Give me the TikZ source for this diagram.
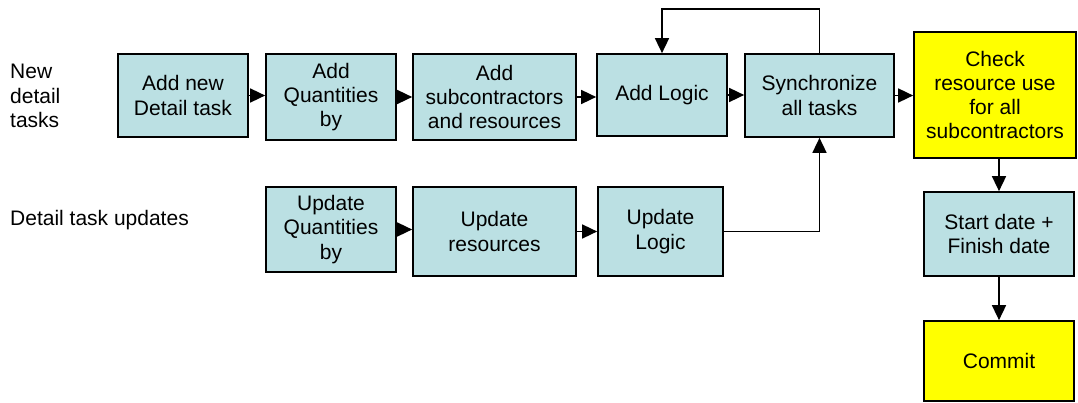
\documentclass[tikz,border=0pt]{standalone}
\usepackage{fontspec}
\setmainfont{Liberation Sans}
\usetikzlibrary{arrows.meta}
\definecolor{taskfill}{HTML}{BBE0E3}
\definecolor{keyfill}{HTML}{FFFF00}
\tikzset{
  taskbox/.style={draw=black, line width=1.7pt, fill=taskfill, rectangle, inner sep=0pt,
    align=center, font=\fontsize{21}{24.3}\selectfont},
  keybox/.style={taskbox, fill=keyfill},
  lbl/.style={anchor=west, align=left, inner sep=0pt, font=\fontsize{21}{24.3}\selectfont},
  arr/.style={draw=black, line width=1.6pt, -{Triangle[length=15pt,width=14pt]}}
}
\begin{document}
\begin{tikzpicture}[x=1pt, y=-1pt]
\useasboundingbox (0,0) rectangle (1078,403);

% row labels
\node[lbl] (lnew) at (10,96) {New\\detail\\tasks};
\node[lbl] (lupd) at (10,220) {Detail task updates};

% new detail tasks
\node[taskbox, minimum width=130pt, minimum height=83pt] (b1) at (183,95.5) {Add new\\Detail task};
\node[taskbox, minimum width=130pt, minimum height=86pt] (b2) at (331,97) {Add\\Quantities\\by};
\node[taskbox, minimum width=163pt, minimum height=86pt] (b3) at (494.5,97) {Add\\subcontractors\\and resources};
\node[taskbox, minimum width=130pt, minimum height=82pt] (b4) at (662,95) {Add Logic};
\node[taskbox, minimum width=149pt, minimum height=83pt] (b5) at (819.5,95.5) {Synchronize\\all tasks};
\node[keybox, minimum width=162pt, minimum height=126pt] (b6) at (995,95) {Check\\resource use\\for all\\subcontractors};

% detail task updates
\node[taskbox, minimum width=130pt, minimum height=85pt] (u1) at (331,229.5) {Update\\Quantities\\by};
\node[taskbox, minimum width=163pt, minimum height=89pt] (u2) at (494.5,231.5) {Update\\resources};
\node[taskbox, minimum width=125pt, minimum height=89pt] (u3) at (660.5,231.5) {Update\\Logic};

% dates and commit
\node[taskbox, minimum width=150pt, minimum height=84pt] (sd) at (999,234) {Start date +\\Finish date};
\node[keybox, minimum width=150pt, minimum height=80pt] (cm) at (999,361) {Commit};

\coordinate (looptop) at (0,9);

% flow of the new tasks
\draw[arr] (b1.east) -- (b1.east -| b2.west);
\draw[arr] (b2.east) -- (b2.east -| b3.west);
\draw[arr] (b3.east) -- (b3.east -| b4.west);
\draw[arr] (b4.east) -- (b4.east -| b5.west);
\draw[arr] (b5.east) -- (b5.east -| b6.west);

% synchronisation loop back to the logic step
\draw[arr] (b5.north) -- (b5.north |- looptop) -| (b4.north);

% flow of the updates
\draw[arr] (u1.east) -- (u1.east -| u2.west);
\draw[arr] (u2.east) -- (u2.east -| u3.west);
\draw[arr] (u3.east) -| (b5.south);

% resource check to dates to commit
\draw[arr] (sd.north |- b6.south) -- (sd.north);
\draw[arr] (sd.south) -- (cm.north);
\end{tikzpicture}
\end{document}
